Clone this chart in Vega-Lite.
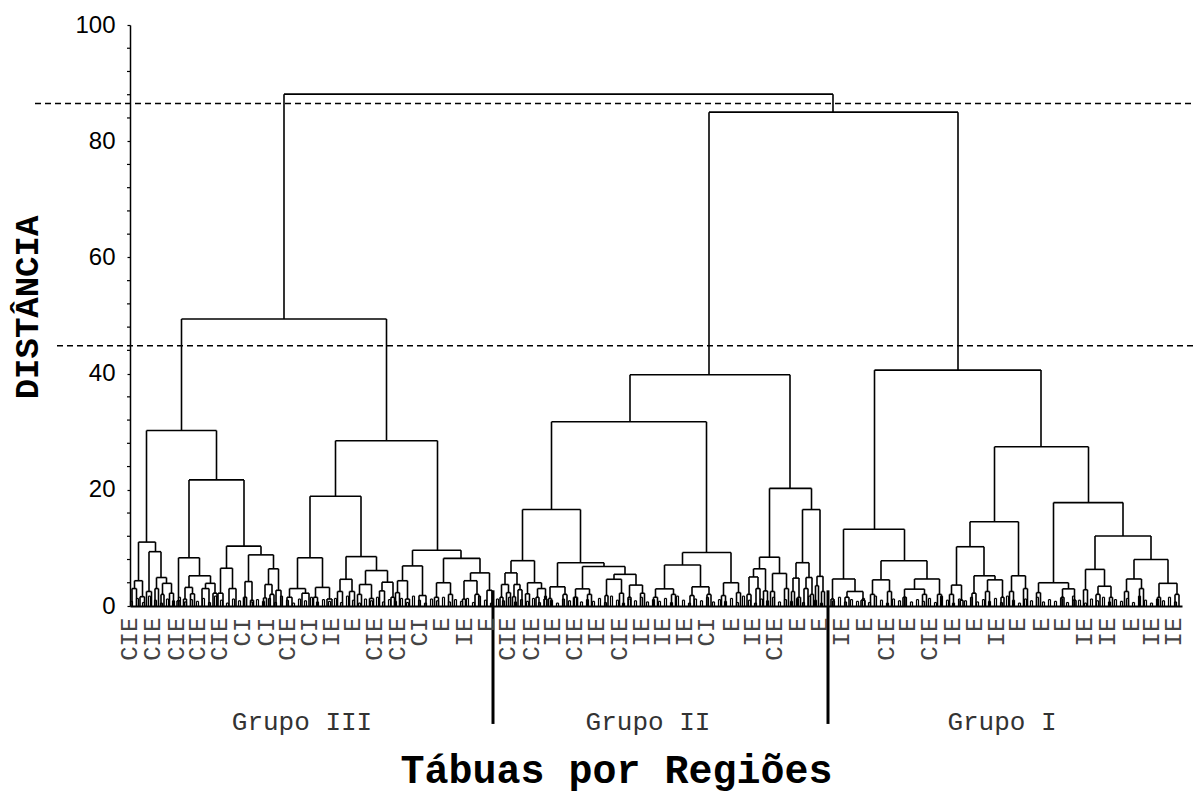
{
"$schema":"https://vega.github.io/schema/vega-lite/v6.json",
"autosize":{"type":"none"},
"width":1052,"height":581,
"padding":{"left":130,"top":25,"right":13,"bottom":203},
"config":{"view":{"stroke":null},"font":"Liberation Sans"},
"datasets":{
"nodes":[
{"xl":154,"xr":703,"h":88.1,"hl":49.4,"hr":85.0},
{"xl":579,"xr":828,"h":85.0,"hl":39.8,"hr":40.6},
{"xl":51.5,"xr":256.5,"h":49.4,"hl":30.2,"hr":28.45},
{"xl":500,"xr":660,"h":39.8,"hl":31.7,"hr":20.25},
{"xl":744.5,"xr":911,"h":40.6,"hl":13.2,"hr":27.4},
{"xl":16.5,"xr":86.5,"h":30.2,"hl":11.0,"hr":21.7},
{"xl":8.5,"xr":25.5,"h":11.0,"hl":4.35,"hr":9.35},
{"xl":4.5,"xr":12.5,"h":4.35,"hl":3.0,"hr":1.6},
{"xl":2,"xr":6.5,"h":3.0,"hl":0,"hr":0},
{"xl":10,"xr":14.5,"h":1.6,"hl":0,"hr":0},
{"xl":19,"xr":31,"h":9.35,"hl":2.5,"hr":4.9},
{"xl":16.5,"xr":21.5,"h":2.5,"hl":0,"hr":0},
{"xl":26.5,"xr":36.5,"h":4.9,"hl":3.0,"hr":3.9},
{"xl":25,"xr":28.5,"h":3.0,"hl":0,"hr":0},
{"xl":32.5,"xr":41.5,"h":3.9,"hl":2.0,"hr":2.2},
{"xl":31,"xr":34,"h":2.0,"hl":0,"hr":0},
{"xl":39.5,"xr":43.5,"h":2.2,"hl":0,"hr":0},
{"xl":59,"xr":114,"h":21.7,"hl":8.3,"hr":10.3},
{"xl":48.5,"xr":69.5,"h":8.3,"hl":0.9,"hr":5.2},
{"xl":47,"xr":50,"h":0.9,"hl":0,"hr":0},
{"xl":59,"xr":80.5,"h":5.2,"hl":3.2,"hr":3.9},
{"xl":55,"xr":62.5,"h":3.2,"hl":1.2,"hr":2.1},
{"xl":53.5,"xr":56.5,"h":1.2,"hl":0,"hr":0},
{"xl":60.5,"xr":64.5,"h":2.1,"hl":0,"hr":0},
{"xl":75.5,"xr":85,"h":3.9,"hl":3.0,"hr":2.2},
{"xl":72,"xr":79,"h":3.0,"hl":0,"hr":0},
{"xl":83,"xr":87,"h":2.2,"hl":0,"hr":0},
{"xl":96.5,"xr":131,"h":10.3,"hl":6.5,"hr":8.8},
{"xl":90.5,"xr":102.5,"h":6.5,"hl":2.2,"hr":3.0},
{"xl":88,"xr":93,"h":2.2,"hl":0,"hr":0},
{"xl":99,"xr":106,"h":3.0,"hl":0,"hr":0},
{"xl":118.5,"xr":143.5,"h":8.8,"hl":4.2,"hr":6.4},
{"xl":115,"xr":122,"h":4.2,"hl":1.5,"hr":1.0},
{"xl":113.5,"xr":116.5,"h":1.5,"hl":0,"hr":0},
{"xl":120.5,"xr":123.5,"h":1.0,"hl":0,"hr":0},
{"xl":138.5,"xr":148.5,"h":6.4,"hl":3.7,"hr":2.7},
{"xl":135,"xr":142,"h":3.7,"hl":1.4,"hr":2.0},
{"xl":133.5,"xr":136.5,"h":1.4,"hl":0,"hr":0},
{"xl":140,"xr":144,"h":2.0,"hl":0,"hr":0},
{"xl":146,"xr":151,"h":2.7,"hl":0,"hr":0},
{"xl":205.5,"xr":307.5,"h":28.45,"hl":18.9,"hr":9.6},
{"xl":180,"xr":231,"h":18.9,"hl":8.3,"hr":8.5},
{"xl":167.5,"xr":192.5,"h":8.3,"hl":3.0,"hr":3.2},
{"xl":159.5,"xr":175.5,"h":3.0,"hl":1.5,"hr":2.2},
{"xl":157,"xr":162,"h":1.5,"hl":0,"hr":0},
{"xl":172,"xr":179,"h":2.2,"hl":0,"hr":0},
{"xl":185.5,"xr":199.5,"h":3.2,"hl":1.5,"hr":1.2},
{"xl":183.5,"xr":187.5,"h":1.5,"hl":0,"hr":0},
{"xl":197,"xr":202,"h":1.2,"hl":0,"hr":0},
{"xl":216,"xr":246.5,"h":8.5,"hl":4.6,"hr":6.1},
{"xl":210,"xr":222,"h":4.6,"hl":2.5,"hr":2.5},
{"xl":207.5,"xr":212.5,"h":2.5,"hl":0,"hr":0},
{"xl":219.5,"xr":224.5,"h":2.5,"hl":0,"hr":0},
{"xl":235.5,"xr":257.5,"h":6.1,"hl":3.7,"hr":4.1},
{"xl":229.5,"xr":241.5,"h":3.7,"hl":2.0,"hr":1.3},
{"xl":227.5,"xr":231.5,"h":2.0,"hl":0,"hr":0},
{"xl":239.5,"xr":243.5,"h":1.3,"hl":0,"hr":0},
{"xl":252,"xr":263,"h":4.1,"hl":2.6,"hr":1.5},
{"xl":249.5,"xr":254.5,"h":2.6,"hl":0,"hr":0},
{"xl":261,"xr":264.5,"h":1.5,"hl":0,"hr":0},
{"xl":282.5,"xr":331,"h":9.6,"hl":6.9,"hr":8.2},
{"xl":272.5,"xr":292.5,"h":6.9,"hl":4.35,"hr":1.8},
{"xl":267.5,"xr":277.5,"h":4.35,"hl":2.3,"hr":1.2},
{"xl":265.5,"xr":269.5,"h":2.3,"hl":0,"hr":0},
{"xl":275.5,"xr":279.5,"h":1.2,"hl":0,"hr":0},
{"xl":289,"xr":296,"h":1.8,"hl":0,"hr":0},
{"xl":313.5,"xr":350,"h":8.2,"hl":4.0,"hr":5.7},
{"xl":306.5,"xr":320.5,"h":4.0,"hl":1.5,"hr":2.0},
{"xl":304.5,"xr":308.5,"h":1.5,"hl":0,"hr":0},
{"xl":318.5,"xr":322.5,"h":2.0,"hl":0,"hr":0},
{"xl":340.5,"xr":359.5,"h":5.7,"hl":4.35,"hr":2.7},
{"xl":334,"xr":347,"h":4.35,"hl":1.2,"hr":2.0},
{"xl":332.5,"xr":335.5,"h":1.2,"hl":0,"hr":0},
{"xl":345,"xr":349,"h":2.0,"hl":0,"hr":0},
{"xl":357,"xr":362,"h":2.7,"hl":0,"hr":0},
{"xl":421.5,"xr":576.5,"h":31.7,"hl":16.6,"hr":9.2},
{"xl":392.5,"xr":450.5,"h":16.6,"hl":7.8,"hr":7.45},
{"xl":381,"xr":404.5,"h":7.8,"hl":5.7,"hr":4.0},
{"xl":375,"xr":387,"h":5.7,"hl":3.7,"hr":3.7},
{"xl":371.5,"xr":378.5,"h":3.7,"hl":1.5,"hr":2.3},
{"xl":370,"xr":373,"h":1.5,"hl":0,"hr":0},
{"xl":376.5,"xr":380.5,"h":2.3,"hl":0,"hr":0},
{"xl":384,"xr":390,"h":3.7,"hl":1.6,"hr":2.8},
{"xl":382.5,"xr":385.5,"h":1.6,"hl":0,"hr":0},
{"xl":388,"xr":392,"h":2.8,"hl":0,"hr":0},
{"xl":397.5,"xr":411.5,"h":4.0,"hl":2.1,"hr":3.0},
{"xl":395.5,"xr":399.5,"h":2.1,"hl":0,"hr":0},
{"xl":407.5,"xr":415.5,"h":3.0,"hl":1.5,"hr":1.2},
{"xl":406,"xr":409,"h":1.5,"hl":0,"hr":0},
{"xl":414,"xr":417,"h":1.2,"hl":0,"hr":0},
{"xl":427.5,"xr":474,"h":7.45,"hl":3.3,"hr":6.8},
{"xl":420,"xr":435,"h":3.3,"hl":1.3,"hr":2.0},
{"xl":418.5,"xr":421.5,"h":1.3,"hl":0,"hr":0},
{"xl":433,"xr":437,"h":2.0,"hl":0,"hr":0},
{"xl":452.5,"xr":495,"h":6.8,"hl":2.95,"hr":5.45},
{"xl":445.5,"xr":459.5,"h":2.95,"hl":1.5,"hr":2.0},
{"xl":443.5,"xr":447.5,"h":1.5,"hl":0,"hr":0},
{"xl":457.5,"xr":461.5,"h":2.0,"hl":0,"hr":0},
{"xl":484,"xr":506,"h":5.45,"hl":4.6,"hr":3.6},
{"xl":476.5,"xr":491.5,"h":4.6,"hl":1.8,"hr":2.2},
{"xl":475,"xr":478,"h":1.8,"hl":0,"hr":0},
{"xl":489.5,"xr":493.5,"h":2.2,"hl":0,"hr":0},
{"xl":499.5,"xr":512.5,"h":3.6,"hl":1.5,"hr":2.2},
{"xl":498,"xr":501,"h":1.5,"hl":0,"hr":0},
{"xl":510.5,"xr":514.5,"h":2.2,"hl":0,"hr":0},
{"xl":552.5,"xr":601,"h":9.2,"hl":7.05,"hr":4.0},
{"xl":534.5,"xr":570.5,"h":7.05,"hl":2.95,"hr":3.3},
{"xl":525.5,"xr":543.5,"h":2.95,"hl":1.5,"hr":2.0},
{"xl":523.5,"xr":527.5,"h":1.5,"hl":0,"hr":0},
{"xl":541.5,"xr":545.5,"h":2.0,"hl":0,"hr":0},
{"xl":562,"xr":579,"h":3.3,"hl":1.8,"hr":2.0},
{"xl":560,"xr":564,"h":1.8,"hl":0,"hr":0},
{"xl":577,"xr":581,"h":2.0,"hl":0,"hr":0},
{"xl":593.5,"xr":608.5,"h":4.0,"hl":1.8,"hr":2.3},
{"xl":591.5,"xr":595.5,"h":1.8,"hl":0,"hr":0},
{"xl":606.5,"xr":610.5,"h":2.3,"hl":0,"hr":0},
{"xl":639.5,"xr":681.5,"h":20.25,"hl":8.4,"hr":16.6},
{"xl":629.5,"xr":649.5,"h":8.4,"hl":6.4,"hr":5.6},
{"xl":623.5,"xr":635.5,"h":6.4,"hl":5.0,"hr":2.6},
{"xl":619,"xr":628,"h":5.0,"hl":2.0,"hr":3.0},
{"xl":617,"xr":621,"h":2.0,"hl":0,"hr":0},
{"xl":626,"xr":630,"h":3.0,"hl":0,"hr":0},
{"xl":633.5,"xr":637.5,"h":2.6,"hl":0,"hr":0},
{"xl":642.5,"xr":656.5,"h":5.6,"hl":2.5,"hr":3.0},
{"xl":640.5,"xr":644.5,"h":2.5,"hl":0,"hr":0},
{"xl":654.5,"xr":658.5,"h":3.0,"hl":0,"hr":0},
{"xl":672.5,"xr":690,"h":16.6,"hl":7.45,"hr":5.1},
{"xl":666,"xr":679,"h":7.45,"hl":4.8,"hr":4.9},
{"xl":663,"xr":669,"h":4.8,"hl":2.5,"hr":1.5},
{"xl":661.5,"xr":664.5,"h":2.5,"hl":0,"hr":0},
{"xl":667.5,"xr":670.5,"h":1.5,"hl":0,"hr":0},
{"xl":676,"xr":682,"h":4.9,"hl":3.0,"hr":2.0},
{"xl":674,"xr":678,"h":3.0,"hl":0,"hr":0},
{"xl":680.5,"xr":683.5,"h":2.0,"hl":0,"hr":0},
{"xl":687,"xr":693,"h":5.1,"hl":3.5,"hr":2.5},
{"xl":685.5,"xr":688.5,"h":3.5,"hl":0,"hr":0},
{"xl":691.5,"xr":694.5,"h":2.5,"hl":0,"hr":0},
{"xl":713.5,"xr":774.5,"h":13.2,"hl":4.65,"hr":7.8},
{"xl":702.5,"xr":725,"h":4.65,"hl":1.2,"hr":2.5},
{"xl":701,"xr":704,"h":1.2,"hl":0,"hr":0},
{"xl":717,"xr":733,"h":2.5,"hl":1.5,"hr":1.0},
{"xl":715,"xr":719,"h":1.5,"hl":0,"hr":0},
{"xl":731,"xr":735,"h":1.0,"hl":0,"hr":0},
{"xl":751,"xr":797,"h":7.8,"hl":4.5,"hr":4.65},
{"xl":742.5,"xr":759.5,"h":4.5,"hl":2.0,"hr":2.5},
{"xl":740.5,"xr":744.5,"h":2.0,"hl":0,"hr":0},
{"xl":757.5,"xr":761.5,"h":2.5,"hl":0,"hr":0},
{"xl":784.5,"xr":809.5,"h":4.65,"hl":2.9,"hr":2.0},
{"xl":774.5,"xr":794.5,"h":2.9,"hl":1.5,"hr":2.0},
{"xl":773,"xr":776,"h":1.5,"hl":0,"hr":0},
{"xl":792.5,"xr":796.5,"h":2.0,"hl":0,"hr":0},
{"xl":807.5,"xr":811.5,"h":2.0,"hl":0,"hr":0},
{"xl":864.5,"xr":958.5,"h":27.4,"hl":14.5,"hr":17.8},
{"xl":840,"xr":888.5,"h":14.5,"hl":10.2,"hr":5.2},
{"xl":826.5,"xr":854,"h":10.2,"hl":3.6,"hr":5.2},
{"xl":821.5,"xr":831.5,"h":3.6,"hl":2.0,"hr":1.0},
{"xl":819.5,"xr":823.5,"h":2.0,"hl":0,"hr":0},
{"xl":830,"xr":833,"h":1.0,"hl":0,"hr":0},
{"xl":844,"xr":865,"h":5.2,"hl":2.2,"hr":4.5},
{"xl":842,"xr":846,"h":2.2,"hl":0,"hr":0},
{"xl":857.5,"xr":872.5,"h":4.5,"hl":2.5,"hr":1.5},
{"xl":855.5,"xr":859.5,"h":2.5,"hl":0,"hr":0},
{"xl":871,"xr":874,"h":1.5,"hl":0,"hr":0},
{"xl":881.5,"xr":895.5,"h":5.2,"hl":2.5,"hr":3.0},
{"xl":879.5,"xr":883.5,"h":2.5,"hl":0,"hr":0},
{"xl":893.5,"xr":897.5,"h":3.0,"hl":0,"hr":0},
{"xl":923.5,"xr":993,"h":17.8,"hl":4.0,"hr":12.05},
{"xl":908.5,"xr":938.5,"h":4.0,"hl":2.3,"hr":2.95},
{"xl":906.5,"xr":910.5,"h":2.3,"hl":0,"hr":0},
{"xl":932.5,"xr":944.5,"h":2.95,"hl":1.5,"hr":1.0},
{"xl":931,"xr":934,"h":1.5,"hl":0,"hr":0},
{"xl":943,"xr":946,"h":1.0,"hl":0,"hr":0},
{"xl":965,"xr":1021,"h":12.05,"hl":6.3,"hr":8.0},
{"xl":955.5,"xr":974.5,"h":6.3,"hl":2.8,"hr":3.4},
{"xl":953.5,"xr":957.5,"h":2.8,"hl":0,"hr":0},
{"xl":968,"xr":981,"h":3.4,"hl":2.0,"hr":1.5},
{"xl":966,"xr":970,"h":2.0,"hl":0,"hr":0},
{"xl":979.5,"xr":982.5,"h":1.5,"hl":0,"hr":0},
{"xl":1004,"xr":1038,"h":8.0,"hl":4.65,"hr":3.9},
{"xl":996.5,"xr":1011.5,"h":4.65,"hl":2.5,"hr":3.0},
{"xl":994.5,"xr":998.5,"h":2.5,"hl":0,"hr":0},
{"xl":1009.5,"xr":1013.5,"h":3.0,"hl":0,"hr":0},
{"xl":1029,"xr":1047,"h":3.9,"hl":1.5,"hr":2.0},
{"xl":1027.5,"xr":1030.5,"h":1.5,"hl":0,"hr":0},
{"xl":1045,"xr":1049,"h":2.0,"hl":0,"hr":0}
],
"grass":[
{"a":0.5,"g":0.8},{"a":6.5,"g":1.3},{"a":12.5,"g":0.6},{"a":18.5,"g":1.7},{"a":24.5,"g":1.0},{"a":30.5,"g":0.5},{"a":36.5,"g":1.2},{"a":42.5,"g":0.9},{"a":48.5,"g":1.5},{"a":54.5,"g":0.7},{"a":60.5,"g":1.1},
{"a":66.5,"g":0.8},{"a":72.5,"g":1.3},{"a":78.5,"g":0.6},{"a":84.5,"g":1.7},{"a":90.5,"g":1.0},{"a":96.5,"g":0.5},{"a":102.5,"g":1.2},{"a":108.5,"g":0.9},{"a":114.5,"g":1.5},{"a":120.5,"g":0.7},{"a":126.5,"g":1.1},
{"a":132.5,"g":0.8},{"a":138.5,"g":1.3},{"a":144.5,"g":0.6},{"a":150.5,"g":1.7},{"a":156.5,"g":1.0},{"a":162.5,"g":0.5},{"a":168.5,"g":1.2},{"a":174.5,"g":0.9},{"a":180.5,"g":1.5},{"a":186.5,"g":0.7},{"a":192.5,"g":1.1},
{"a":198.5,"g":0.8},{"a":204.5,"g":1.3},{"a":210.5,"g":0.6},{"a":216.5,"g":1.7},{"a":222.5,"g":1.0},{"a":228.5,"g":0.5},{"a":234.5,"g":1.2},{"a":240.5,"g":0.9},{"a":246.5,"g":1.5},{"a":252.5,"g":0.7},{"a":258.5,"g":1.1},
{"a":264.5,"g":0.8},{"a":270.5,"g":1.3},{"a":276.5,"g":0.6},{"a":282.5,"g":1.7},{"a":288.5,"g":1.0},{"a":294.5,"g":0.5},{"a":300.5,"g":1.2},{"a":306.5,"g":0.9},{"a":312.5,"g":1.5},{"a":318.5,"g":0.7},{"a":324.5,"g":1.1},
{"a":330.5,"g":0.8},{"a":336.5,"g":1.3},{"a":342.5,"g":0.6},{"a":348.5,"g":1.7},{"a":354.5,"g":1.0},{"a":360.5,"g":0.5},{"a":366.5,"g":1.2},{"a":372.5,"g":0.9},{"a":378.5,"g":1.5},{"a":384.5,"g":0.7},{"a":390.5,"g":1.1},
{"a":396.5,"g":0.8},{"a":402.5,"g":1.3},{"a":408.5,"g":0.6},{"a":414.5,"g":1.7},{"a":420.5,"g":1.0},{"a":426.5,"g":0.5},{"a":432.5,"g":1.2},{"a":438.5,"g":0.9},{"a":444.5,"g":1.5},{"a":450.5,"g":0.7},{"a":456.5,"g":1.1},
{"a":462.5,"g":0.8},{"a":468.5,"g":1.3},{"a":474.5,"g":0.6},{"a":480.5,"g":1.7},{"a":486.5,"g":1.0},{"a":492.5,"g":0.5},{"a":498.5,"g":1.2},{"a":504.5,"g":0.9},{"a":510.5,"g":1.5},{"a":516.5,"g":0.7},{"a":522.5,"g":1.1},
{"a":528.5,"g":0.8},{"a":534.5,"g":1.3},{"a":540.5,"g":0.6},{"a":546.5,"g":1.7},{"a":552.5,"g":1.0},{"a":558.5,"g":0.5},{"a":564.5,"g":1.2},{"a":570.5,"g":0.9},{"a":576.5,"g":1.5},{"a":582.5,"g":0.7},{"a":588.5,"g":1.1},
{"a":594.5,"g":0.8},{"a":600.5,"g":1.3},{"a":606.5,"g":0.6},{"a":612.5,"g":1.7},{"a":618.5,"g":1.0},{"a":624.5,"g":0.5},{"a":630.5,"g":1.2},{"a":636.5,"g":0.9},{"a":642.5,"g":1.5},{"a":648.5,"g":0.7},{"a":654.5,"g":1.1},
{"a":660.5,"g":0.8},{"a":666.5,"g":1.3},{"a":672.5,"g":0.6},{"a":678.5,"g":1.7},{"a":684.5,"g":1.0},{"a":690.5,"g":0.5},{"a":702.5,"g":0.9},{"a":708.5,"g":1.5},{"a":714.5,"g":0.7},{"a":720.5,"g":1.1},
{"a":726.5,"g":0.8},{"a":732.5,"g":1.3},{"a":738.5,"g":0.6},{"a":744.5,"g":1.7},{"a":750.5,"g":1.0},{"a":756.5,"g":0.5},{"a":762.5,"g":1.2},{"a":768.5,"g":0.9},{"a":774.5,"g":1.5},{"a":780.5,"g":0.7},{"a":786.5,"g":1.1},
{"a":792.5,"g":0.8},{"a":798.5,"g":1.3},{"a":804.5,"g":0.6},{"a":810.5,"g":1.7},{"a":816.5,"g":1.0},{"a":822.5,"g":0.5},{"a":828.5,"g":1.2},{"a":834.5,"g":0.9},{"a":840.5,"g":1.5},{"a":846.5,"g":0.7},{"a":852.5,"g":1.1},
{"a":858.5,"g":0.8},{"a":864.5,"g":1.3},{"a":870.5,"g":0.6},{"a":876.5,"g":1.7},{"a":882.5,"g":1.0},{"a":888.5,"g":0.5},{"a":894.5,"g":1.2},{"a":900.5,"g":0.9},{"a":906.5,"g":1.5},{"a":912.5,"g":0.7},{"a":918.5,"g":1.1},
{"a":924.5,"g":0.8},{"a":930.5,"g":1.3},{"a":936.5,"g":0.6},{"a":942.5,"g":1.7},{"a":948.5,"g":1.0},{"a":954.5,"g":0.5},{"a":960.5,"g":1.2},{"a":966.5,"g":0.9},{"a":972.5,"g":1.5},{"a":978.5,"g":0.7},{"a":984.5,"g":1.1},
{"a":990.5,"g":0.8},{"a":996.5,"g":1.3},{"a":1002.5,"g":0.6},{"a":1008.5,"g":1.7},{"a":1014.5,"g":1.0},{"a":1020.5,"g":0.5},{"a":1026.5,"g":1.2},{"a":1032.5,"g":0.9},{"a":1038.5,"g":1.5},{"a":1044.5,"g":0.7}
],
"minor":[{"v":4},{"v":8},{"v":12},{"v":16},{"v":24},{"v":28},{"v":32},{"v":36},{"v":44},{"v":48},{"v":52},{"v":56},{"v":64},{"v":68},{"v":72},{"v":76},{"v":84},{"v":88},{"v":92},{"v":96}],
"labels":[
{"p":0,"t":"CIE"},{"p":23,"t":"CIE"},{"p":47,"t":"CIE"},{"p":68,"t":"CIE"},{"p":90,"t":"CIE"},
{"p":113,"t":"CI"},{"p":137,"t":"CI"},{"p":158,"t":"CIE"},{"p":180,"t":"CI"},{"p":202,"t":"IE"},
{"p":223,"t":"E"},{"p":245,"t":"CIE"},{"p":268,"t":"CIE"},{"p":290,"t":"CI"},{"p":312,"t":"E"},
{"p":335,"t":"IE"},{"p":357,"t":"E"},{"p":378,"t":"CIE"},{"p":402,"t":"CIE"},{"p":423,"t":"IE"},
{"p":445,"t":"CIE"},{"p":467,"t":"IE"},{"p":490,"t":"CIE"},{"p":512,"t":"IE"},{"p":533,"t":"IE"},
{"p":555,"t":"IE"},{"p":577,"t":"CI"},{"p":602,"t":"E"},{"p":623,"t":"IE"},{"p":645,"t":"CIE"},
{"p":668,"t":"E"},{"p":690,"t":"E"},{"p":712,"t":"IE"},{"p":735,"t":"E"},{"p":757,"t":"CIE"},
{"p":778,"t":"E"},{"p":800,"t":"CIE"},{"p":823,"t":"IE"},{"p":845,"t":"E"},{"p":867,"t":"IE"},
{"p":888,"t":"E"},{"p":912,"t":"E"},{"p":933,"t":"E"},{"p":955,"t":"IE"},{"p":978,"t":"IE"},
{"p":1002,"t":"E"},{"p":1022,"t":"IE"},{"p":1044,"t":"IE"}
],
"groups":[{"p":172,"g":"Grupo III"},{"p":518,"g":"Grupo II"},{"p":872,"g":"Grupo I"}],
"seps":[{"p":363},{"p":698}],
"cuts":[{"level":86.5,"from":-95},{"level":44.8,"from":-73}]
},
"layer":[
{"data":{"name":"nodes"},"mark":{"type":"rule","color":"black","strokeWidth":1.6},
 "encoding":{
  "x":{"field":"xl","type":"quantitative","scale":{"domain":[0,1052],"nice":false,"zero":false},
   "axis":{"domain":true,"domainColor":"black","domainWidth":2,"ticks":false,"labels":false,"grid":false,
    "title":"Tábuas por Regiões","titleFont":"Liberation Mono","titleFontWeight":"bold","titleFontSize":40,"titleColor":"black",
    "titleX":486,"titleY":164,"titleAlign":"center","titleBaseline":"middle"}},
  "x2":{"field":"xr"},
  "y":{"field":"h","type":"quantitative","scale":{"domain":[0,100],"nice":false,"zero":false},
   "axis":{"values":[0,20,40,60,80,100],
    "labelFont":"Liberation Sans","labelFontSize":24,"labelColor":"black","labelPadding":12,
    "tickSize":3,"tickColor":"black","tickWidth":1.2,"domainColor":"black","domainWidth":1.5,"grid":false,
    "title":"DISTÂNCIA","titleFont":"Liberation Mono","titleFontWeight":"bold","titleFontSize":34,"titleColor":"black",
    "titleAngle":-90,"titleX":-103,"titleY":282,"titleAlign":"center","titleBaseline":"middle"}}
 }},
{"data":{"name":"nodes"},"mark":{"type":"rule","color":"black","strokeWidth":1.6},
 "encoding":{"x":{"field":"xl","type":"quantitative"},"y":{"field":"hl","type":"quantitative"},"y2":{"field":"h"}}},
{"data":{"name":"nodes"},"mark":{"type":"rule","color":"black","strokeWidth":1.6},
 "encoding":{"x":{"field":"xr","type":"quantitative"},"y":{"field":"hr","type":"quantitative"},"y2":{"field":"h"}}},
{"data":{"name":"grass"},"mark":{"type":"rule","color":"black","strokeWidth":1.2},
 "encoding":{"x":{"field":"a","type":"quantitative"},"y":{"field":"g","type":"quantitative"},"y2":{"datum":0.001}}},
{"data":{"name":"grass"},"mark":{"type":"rule","color":"black","strokeWidth":1.2,"xOffset":2},
 "encoding":{"x":{"field":"a","type":"quantitative"},"y":{"field":"g","type":"quantitative"},"y2":{"datum":0.001}}},
{"data":{"name":"grass"},"mark":{"type":"rule","color":"black","strokeWidth":1.2,"x2Offset":2},
 "encoding":{"x":{"field":"a","type":"quantitative"},"x2":{"field":"a"},"y":{"field":"g","type":"quantitative"}}},
{"data":{"name":"minor"},"mark":{"type":"rule","color":"black","strokeWidth":1.2},
 "encoding":{"x":{"datum":-3,"type":"quantitative"},"x2":{"datum":0.001},"y":{"field":"v","type":"quantitative"}}},
{"data":{"name":"cuts"},"mark":{"type":"rule","color":"black","strokeWidth":1.4,"strokeDash":[6,4]},
 "encoding":{"x":{"field":"from","type":"quantitative"},"x2":{"datum":1065},"y":{"field":"level","type":"quantitative"}}},
{"data":{"name":"seps"},"mark":{"type":"rule","color":"black","strokeWidth":3},
 "encoding":{"x":{"field":"p","type":"quantitative"},"y":{"datum":2.7,"type":"quantitative"},"y2":{"datum":-20.3}}},
{"data":{"name":"labels"},"mark":{"type":"text","angle":270,"align":"right","baseline":"middle","font":"Liberation Mono","fontSize":24,"color":"#444"},
 "encoding":{"x":{"field":"p","type":"quantitative"},"y":{"datum":-2.0,"type":"quantitative"},"text":{"field":"t"}}},
{"data":{"name":"groups"},"mark":{"type":"text","align":"center","baseline":"middle","font":"Liberation Mono","fontSize":26,"color":"#333"},
 "encoding":{"x":{"field":"p","type":"quantitative"},"y":{"datum":-20,"type":"quantitative"},"text":{"field":"g"}}}
]
}
